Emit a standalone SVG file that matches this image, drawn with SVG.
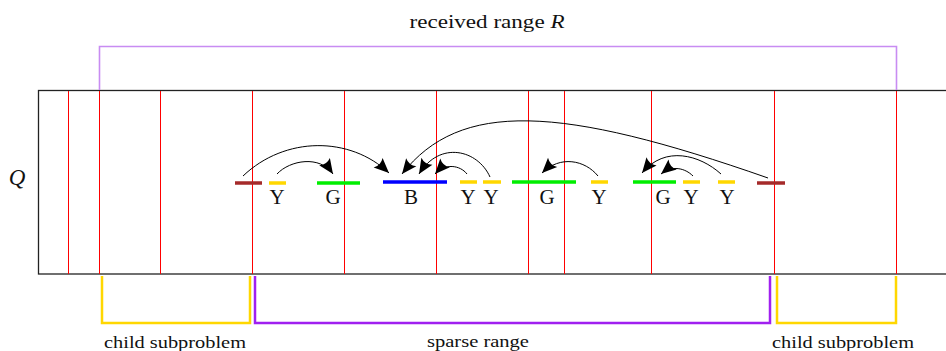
<svg xmlns="http://www.w3.org/2000/svg" width="946" height="351" viewBox="0 0 946 351">
<style>
text{font-family:"Liberation Serif","DejaVu Serif",serif;fill:#111}
.red{stroke:#ff0000;stroke-width:1;fill:none}
.seg{stroke-width:3.5;fill:none}
.lbl{font-size:21px;text-anchor:middle}
.arc{stroke:#000;stroke-width:1;fill:none;marker-end:url(#ah)}
.br{fill:none;stroke-width:2.5}
</style>
<defs>
<marker id="ah" markerUnits="userSpaceOnUse" markerWidth="18" markerHeight="16" viewBox="-16 -8 18 16" refX="0" refY="0" orient="auto">
<path d="M0,0 L-15,-6.5 Q-11,0 -15,6.5 Z" fill="#000"/>
</marker>
</defs>
<rect width="946" height="351" fill="#fff"/>
<g id="frame">
<rect x="38.5" y="90.5" width="920" height="183.5" fill="none" stroke="#222" stroke-width="1.3"/>
<path class="red" d="M68.5,91V274M99.5,91V274M160.5,91V274M252.5,91V274M344.5,91V274M436.5,91V274M528.5,91V274M564.5,91V274M651.5,91V274M774.5,91V274M896.5,91V274"/>
<text x="17" y="185" style="font-size:23px;font-style:italic" text-anchor="middle">Q</text>
</g>
<g id="received-range">
<path d="M99.5,90V46.5H896.5V90" fill="none" stroke="#c88cf2" stroke-width="1.6"/>
<text x="487" y="28" style="font-size:19px" text-anchor="middle" textLength="155" lengthAdjust="spacingAndGlyphs">received range <tspan font-style="italic">R</tspan></text>
</g>
<g id="segments">
<path class="seg" stroke="#a52a2a" d="M235,183H262"/>
<path class="seg" stroke="#ffd700" d="M269,183H286"/>
<path class="seg" stroke="#00ee00" d="M317,183H360"/>
<path class="seg" stroke="#0000ff" d="M383,182H447"/>
<path class="seg" stroke="#ffd700" d="M460,182H477"/>
<path class="seg" stroke="#ffd700" d="M483,182H501"/>
<path class="seg" stroke="#00ee00" d="M512,182H576"/>
<path class="seg" stroke="#ffd700" d="M591,182H608"/>
<path class="seg" stroke="#00ee00" d="M633,182H676"/>
<path class="seg" stroke="#ffd700" d="M683,182H700"/>
<path class="seg" stroke="#ffd700" d="M718,182H735"/>
<path class="seg" stroke="#a52a2a" d="M757,183H785"/>
</g>
<g id="labels">
<text class="lbl" x="277" y="204">Y</text>
<text class="lbl" x="333" y="204">G</text>
<text class="lbl" x="411" y="204">B</text>
<text class="lbl" x="468" y="204">Y</text>
<text class="lbl" x="491" y="204">Y</text>
<text class="lbl" x="547" y="204">G</text>
<text class="lbl" x="599" y="204">Y</text>
<text class="lbl" x="663" y="204">G</text>
<text class="lbl" x="691" y="204">Y</text>
<text class="lbl" x="727" y="204">Y</text>
</g>
<g id="connectors">
<path class="arc" d="M243,176 C285,136 350,136 389,173"/>
<path class="arc" d="M277,174 C290,160 320,155 333,174"/>
<path class="arc" d="M768,178 C560,105 460,100 402,174"/>
<path class="arc" d="M490,177 C478,150 440,140 419,174"/>
<path class="arc" d="M467,174 C460,165 445,163 435,174"/>
<path class="arc" d="M598,176 C585,160 560,155 542,173"/>
<path class="arc" d="M721,174 C700,155 665,145 642,173"/>
<path class="arc" d="M693,176 C685,168 672,165 661,174"/>
</g>
<g id="child-left">
<path class="br" stroke="#ffd700" d="M102,276V323H250V276"/>
<text x="175" y="348" style="font-size:17px" text-anchor="middle" textLength="142" lengthAdjust="spacingAndGlyphs">child subproblem</text>
</g>
<g id="sparse">
<path class="br" stroke="#a020f0" d="M255,276V323H770V276"/>
<text x="478" y="347" style="font-size:17px" text-anchor="middle" textLength="102" lengthAdjust="spacingAndGlyphs">sparse range</text>
</g>
<g id="child-right">
<path class="br" stroke="#ffd700" d="M777,276V323H896V276"/>
<text x="843" y="348" style="font-size:17px" text-anchor="middle" textLength="142" lengthAdjust="spacingAndGlyphs">child subproblem</text>
</g>
</svg>
